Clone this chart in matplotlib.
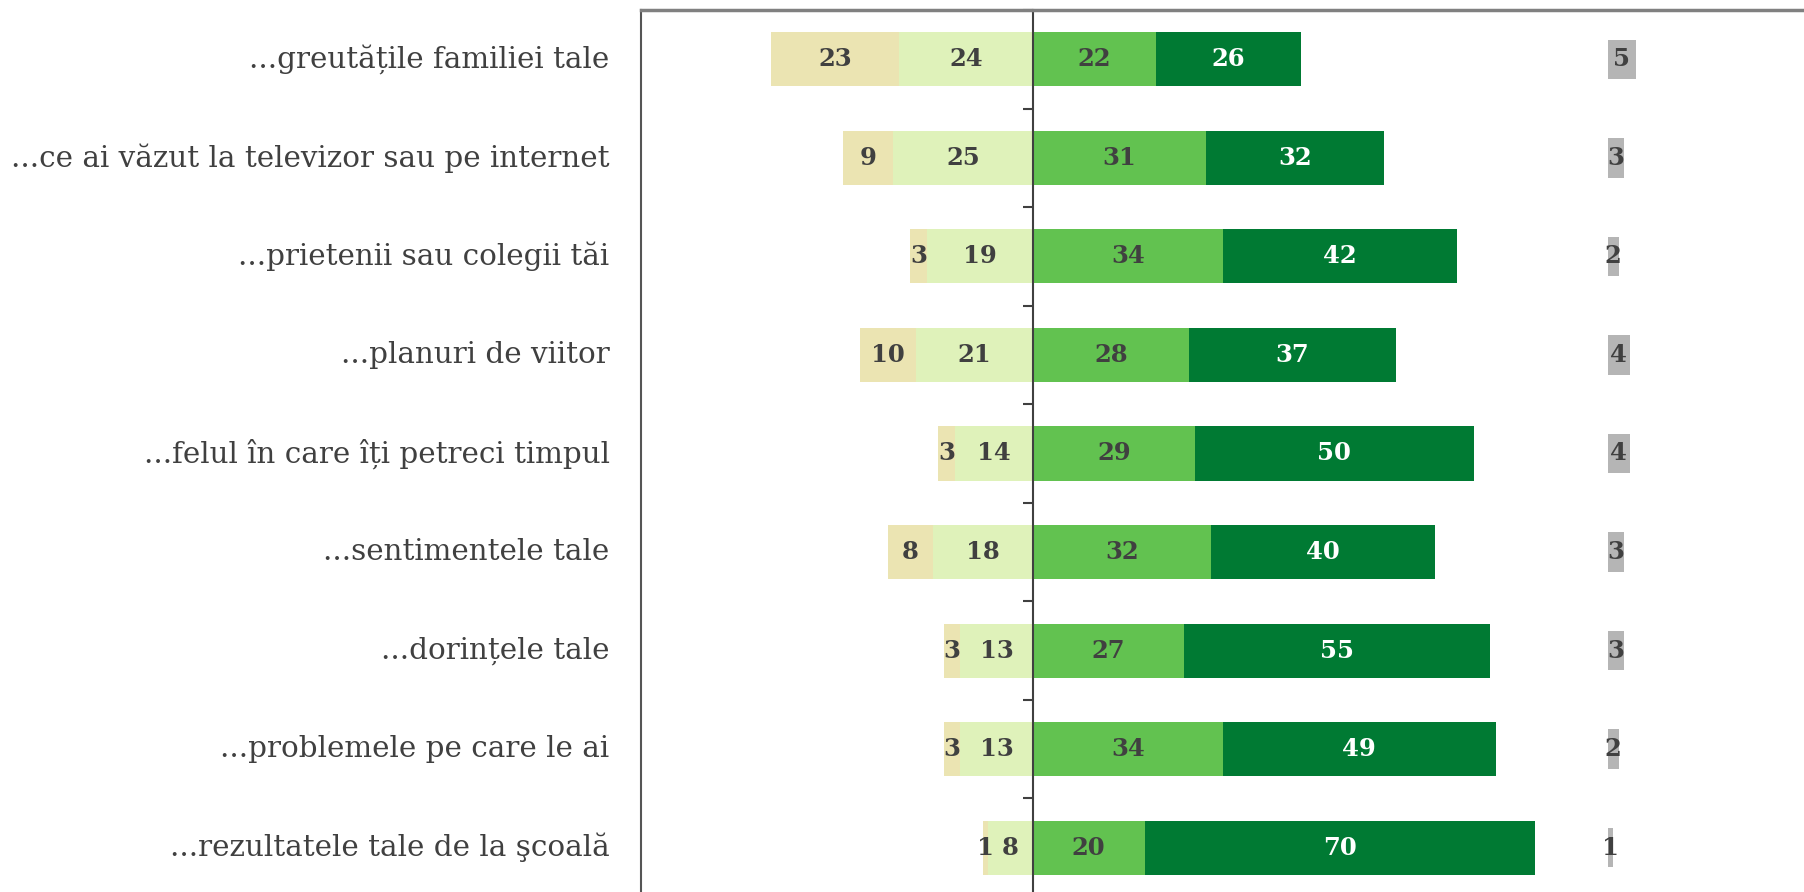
import numpy as np
import matplotlib
matplotlib.use("Agg")
import matplotlib.pyplot as plt

# categories, top to bottom
categories = [
    "...greutățile familiei tale",
    "...ce ai văzut la televizor sau pe internet",
    "...prietenii sau colegii tăi",
    "...planuri de viitor",
    "...felul în care îți petreci timpul",
    "...sentimentele tale",
    "...dorințele tale",
    "...problemele pe care le ai",
    "...rezultatele tale de la şcoală",
]

# negative side (outer, inner) and positive side (inner, outer), plus "nu știu"
neg_outer = [23, 9, 3, 10, 3, 8, 3, 3, 1]
neg_inner = [24, 25, 19, 21, 14, 18, 13, 13, 8]
pos_inner = [22, 31, 34, 28, 29, 32, 27, 34, 20]
pos_outer = [26, 32, 42, 37, 50, 40, 55, 49, 70]
dont_know = [5, 3, 2, 4, 4, 3, 3, 2, 1]

C_NEG_OUTER = "#ebe4b2"
C_NEG_INNER = "#dff2ba"
C_POS_INNER = "#62c250"
C_POS_OUTER = "#007a33"
C_GRAY = "#b5b5b5"
TXT = "#404040"
FONT = "DejaVu Serif"

W, H = 1804, 892
fig = plt.figure(figsize=(W / 100, H / 100), dpi=100)
ax = fig.add_axes([641 / W, -5 / H, 1 - 641 / W, (887) / H])

y = np.arange(len(categories))
no = np.array(neg_outer)
ni = np.array(neg_inner)
pi = np.array(pos_inner)
po = np.array(pos_outer)
dk = np.array(dont_know)
gray_x = 103

h = 0.55
ax.barh(y, -ni, height=h, color=C_NEG_INNER)
ax.barh(y, -no, left=-ni, height=h, color=C_NEG_OUTER)
ax.barh(y, pi, height=h, color=C_POS_INNER)
ax.barh(y, po, left=pi, height=h, color=C_POS_OUTER)
ax.barh(y, dk, left=gray_x, height=0.4, color=C_GRAY)

lab = dict(ha="center", va="center", fontsize=17.5, fontweight="bold", family=FONT)
for i in range(len(categories)):
    ax.text(-ni[i] - no[i] / 2, i, str(no[i]), color=TXT, **lab)
    ax.text(-ni[i] / 2, i, str(ni[i]), color=TXT, **lab)
    ax.text(pi[i] / 2, i, str(pi[i]), color=TXT, **lab)
    ax.text(pi[i] + po[i] / 2, i, str(po[i]), color="white", **lab)
    ax.text(gray_x + dk[i] / 2, i, str(dk[i]), color=TXT, **lab)
    ax.text(-0.027, i, categories[i], transform=ax.get_yaxis_transform(),
            ha="right", va="center", fontsize=21.2, color=TXT, family=FONT)

xmin, xmax = -70.25, 138.2
ax.set_xlim(xmin, xmax)
ax.set_ylim(8.5, -0.5)

ax.spines["left"].set_position(("data", 0))
ax.spines["left"].set_color("#404040")
ax.spines["left"].set_linewidth(1.5)
ax.spines["right"].set_visible(False)
ax.spines["bottom"].set_visible(False)
ax.spines["top"].set_color("#808080")
ax.spines["top"].set_linewidth(2.5)
ax.axvline(xmin, color="#555555", linewidth=1.5, clip_on=False)

ax.set_yticks(np.arange(-0.5, 9, 1))
ax.set_yticklabels([])
ax.tick_params(axis="y", direction="out", length=7, width=1.5, color="#404040")
ax.set_xticks([])

fig.savefig("out.png", dpi=100)
